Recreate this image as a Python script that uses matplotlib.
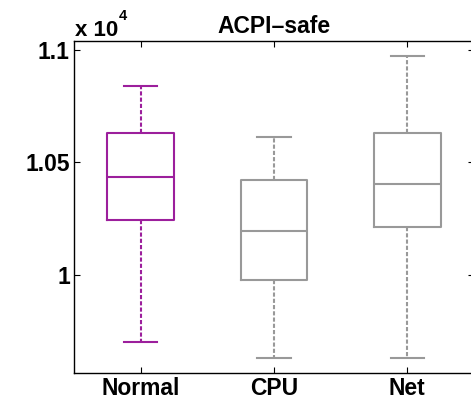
#!/usr/bin/env python3
"""
Box plot of ACPI-safe measurements for Normal / CPU / Net runs.
"""

import matplotlib
matplotlib.use('Agg')
import matplotlib.pyplot as plt

plt.rcParams['font.family'] = ['Liberation Sans', 'DejaVu Sans']
plt.rcParams['font.weight'] = 'bold'

# Data
labels = ['Normal', 'CPU', 'Net']
whisker_low = [9704, 9630, 9630]
q1 = [10243, 9978, 10213]
median = [10437, 10197, 10404]
q3 = [10632, 10422, 10630]
whisker_high = [10841, 10615, 10975]

yticks = [10000, 10500, 11000]
ytick_labels = ['1', '1.05', '1.1']

# Colors
color_normal = '#9C1F9C'
color_other = '#999999'
colors = [color_normal, color_other, color_other]

fig = plt.figure(figsize=(4.71, 4.08), dpi=100)
ax = fig.add_axes([74 / 471, 1 - 373 / 408, 400 / 471, 332 / 408])

stats = []
for i, lab in enumerate(labels):
    stats.append({
        'label': lab,
        'whislo': whisker_low[i],
        'q1': q1[i],
        'med': median[i],
        'q3': q3[i],
        'whishi': whisker_high[i],
        'fliers': [],
    })

# Draw each box separately so it can take its own colour
for i, st in enumerate(stats):
    c = colors[i]
    ax.bxp([st], positions=[i + 1], widths=0.5, showfliers=False,
           boxprops=dict(color=c, linewidth=1.5),
           medianprops=dict(color=c, linewidth=1.5),
           whiskerprops=dict(color=c, linewidth=1.5, linestyle=(0, (2, 1))),
           capprops=dict(color=c, linewidth=1.5),
           capwidths=0.25)

ax.set_xlim(0.5, 3.5)
ax.set_ylim(9564, 11040)
ax.set_xticks([1, 2, 3])
ax.set_xticklabels(labels, fontsize=16.5, fontweight='bold')
ax.set_yticks(yticks)
ax.set_yticklabels(ytick_labels, fontsize=16.5, fontweight='bold')

ax.tick_params(direction='in', length=4, width=0.8, top=True, right=True,
               pad=3, colors='black')
for sp in ax.spines.values():
    sp.set_linewidth(1.0)

ax.set_title('ACPI\u2013safe', fontsize=16.5, fontweight='bold', pad=6)

# Scale factor text like MATLAB puts it
fig.text(75 / 471, 1 - 36.5 / 408, 'x 10', fontsize=16, fontweight='bold',
         ha='left', va='baseline')
fig.text(119 / 471, 1 - 20 / 408, '4', fontsize=10.5, fontweight='bold',
         ha='left', va='baseline')

fig.savefig('out.png', dpi=100, facecolor='white')
plt.close(fig)
